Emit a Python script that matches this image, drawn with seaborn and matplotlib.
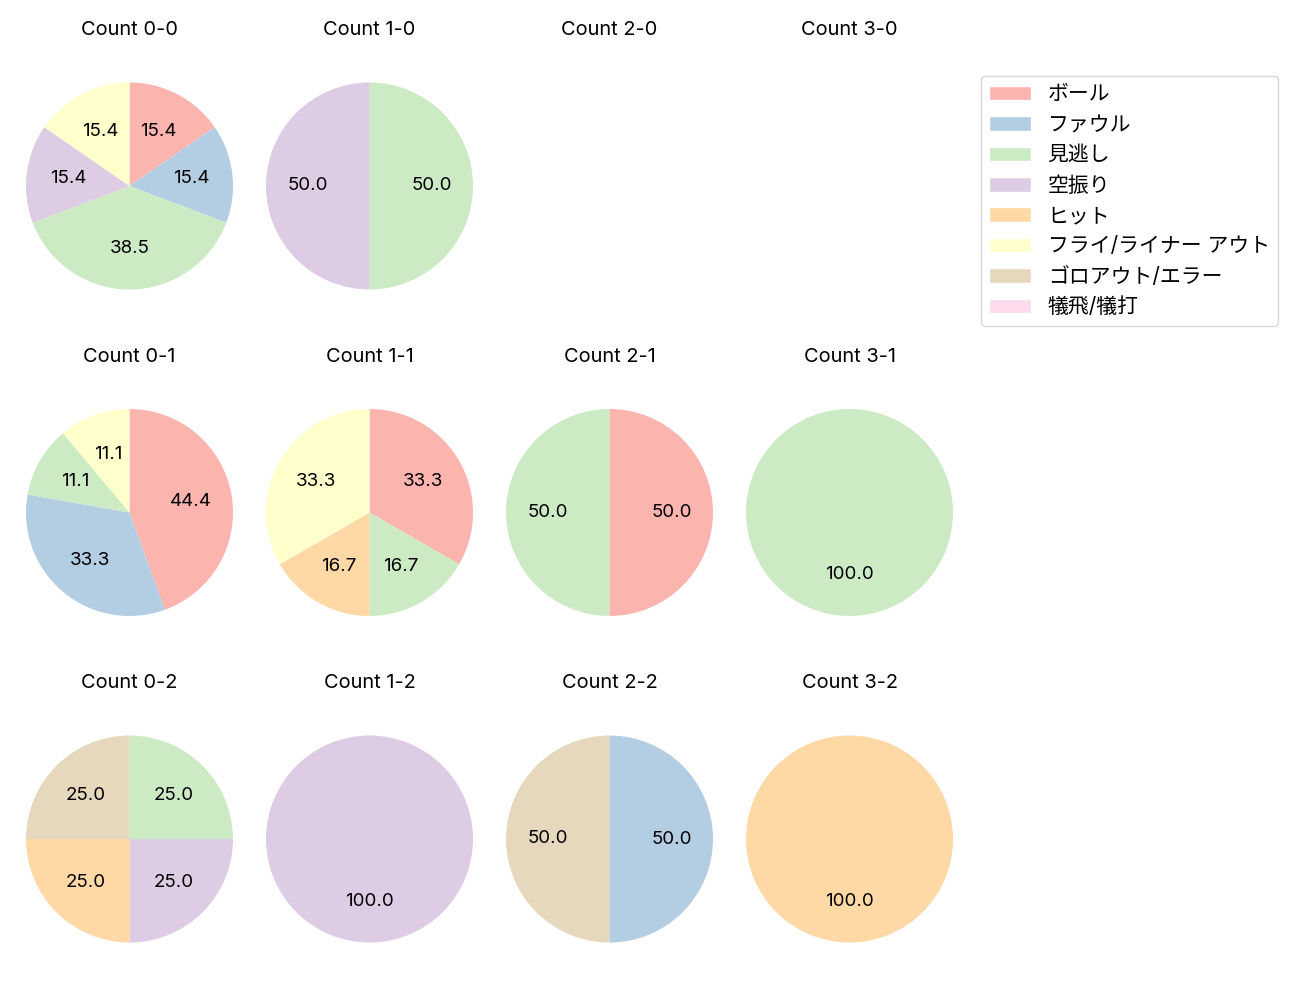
import matplotlib
matplotlib.use("Agg")
import matplotlib.pyplot as plt
from matplotlib.patches import Patch
import seaborn as sns

sns.set_theme(style="white")
plt.rcParams['font.family'] = ['Inter', 'Noto Sans CJK JP', 'DejaVu Sans']
plt.rcParams['text.color'] = 'black'

categories = ["ボール", "ファウル", "見逃し", "空振り", "ヒット",
              "フライ/ライナー アウト", "ゴロアウト/エラー", "犠飛/犠打"]

count_0_0 = [2, 2, 5, 2, 0, 2, 0, 0]
count_1_0 = [0, 0, 1, 1, 0, 0, 0, 0]
count_2_0 = [0, 0, 0, 0, 0, 0, 0, 0]
count_3_0 = [0, 0, 0, 0, 0, 0, 0, 0]
count_0_1 = [4, 3, 1, 0, 0, 1, 0, 0]
count_1_1 = [2, 0, 1, 0, 1, 2, 0, 0]
count_2_1 = [1, 0, 1, 0, 0, 0, 0, 0]
count_3_1 = [0, 0, 1, 0, 0, 0, 0, 0]
count_0_2 = [0, 0, 1, 1, 1, 0, 1, 0]
count_1_2 = [0, 0, 0, 1, 0, 0, 0, 0]
count_2_2 = [0, 1, 0, 0, 0, 0, 1, 0]
count_3_2 = [0, 0, 0, 0, 1, 0, 0, 0]

grid = [
    [("Count 0-0", count_0_0), ("Count 1-0", count_1_0), ("Count 2-0", count_2_0), ("Count 3-0", count_3_0)],
    [("Count 0-1", count_0_1), ("Count 1-1", count_1_1), ("Count 2-1", count_2_1), ("Count 3-1", count_3_1)],
    [("Count 0-2", count_0_2), ("Count 1-2", count_1_2), ("Count 2-2", count_2_2), ("Count 3-2", count_3_2)],
]

colors = sns.color_palette("Pastel1", 8)

W, H = 1300, 1000
fig = plt.figure(figsize=(13, 10), dpi=100)

R = 103.5
box = 240.0
col_cx = [129.5, 369.5, 609.5, 849.5]
row_cy = [186.0, 512.5, 839.0]

for r, row in enumerate(grid):
    for c, (title, vals) in enumerate(row):
        cx, cy = col_cx[c], row_cy[r]
        ax = fig.add_axes([(cx - box / 2) / W, 1 - (cy + box / 2) / H, box / W, box / H])
        ax.axis('off')
        ax.set_title(title, y=0.5 + 156 / box, va='center', pad=0, fontsize=14.4, color='black')
        nz = [i for i, v in enumerate(vals) if v > 0]
        if nz:
            ax.pie([vals[i] for i in nz], colors=[colors[i] for i in nz],
                   startangle=90, counterclock=False,
                   autopct="%.1f", pctdistance=0.6,
                   wedgeprops={'linewidth': 0, 'edgecolor': 'none'},
                   textprops={'fontsize': 13.5, 'color': 'black'})
        lim = (box / 2) / R
        ax.set_xlim(-lim, lim)
        ax.set_ylim(-lim, lim)
        ax.set_aspect('equal', adjustable='box')
        ax.axis('off')

handles = [Patch(facecolor=colors[i], label=categories[i]) for i in range(len(categories))]
leg = fig.legend(handles=handles, loc='upper left', bbox_to_anchor=(981 / W, 1 - 76 / H),
                 borderaxespad=0, fontsize=15, frameon=True)
for t in leg.get_texts():
    t.set_color('black')

fig.savefig("out.png", dpi=100)
